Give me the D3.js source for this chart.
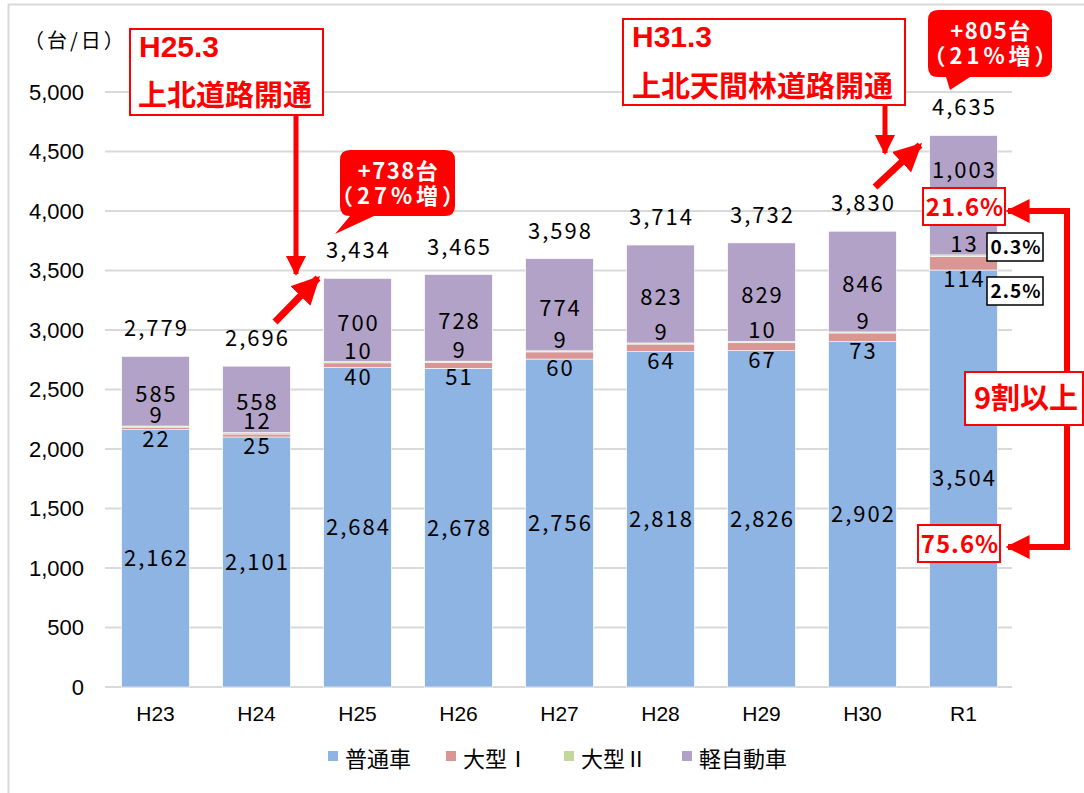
<!DOCTYPE html>
<html>
<head>
<meta charset="utf-8">
<script src="https://cdn.jsdelivr.net/npm/d3@7"></script>
<style>
  body { margin: 0; background: #fff; }
  svg { display: block; }
</style>
</head>
<body>
<script>
// data
var years = ["H23", "H24", "H25", "H26", "H27", "H28", "H29", "H30", "R1"];
var futsu = [2162, 2101, 2684, 2678, 2756, 2818, 2826, 2902, 3504];
var ogata1 = [22, 25, 40, 51, 60, 64, 67, 73, 114];
var ogata2 = [9, 12, 10, 9, 9, 9, 10, 9, 13];
var kei = [585, 558, 700, 728, 774, 823, 829, 846, 1003];
var totals = [2779, 2696, 3434, 3465, 3598, 3714, 3732, 3830, 4635];
var yTicks = [0, 500, 1000, 1500, 2000, 2500, 3000, 3500, 4000, 4500, 5000];
var seriesNames = ["普通車", "大型Ⅰ", "大型Ⅱ", "軽自動車"];
var colors = ["#8EB4E3", "#D99694", "#C3D69B", "#B3A2C7"];

var width = 1084, height = 793;
var jp = "'Noto Sans CJK JP', sans-serif";
var arial = "'Liberation Sans', Arial, sans-serif";
var red = "#FF0000";

var svg = d3.select("body").append("svg")
  .attr("width", width)
  .attr("height", height);

svg.append("defs").append("marker")
  .attr("id", "head")
  .attr("viewBox", "0 0 10 10")
  .attr("refX", 9).attr("refY", 5)
  .attr("markerWidth", 4).attr("markerHeight", 4)
  .attr("markerUnits", "strokeWidth")
  .attr("orient", "auto")
  .append("path").attr("d", "M0,0 L10,5 L0,10 Z").attr("fill", red);

// outer frame
svg.append("rect")
  .attr("x", 8.5).attr("y", 4.5)
  .attr("width", 1100).attr("height", 800)
  .attr("fill", "none").attr("stroke", "#D9D9D9").attr("stroke-width", 2);

var x = d3.scaleBand().domain(years).range([105, 1014]).paddingInner(0.33).paddingOuter(0.165);
var y = d3.scaleLinear().domain([0, 5000]).range([687, 92]);

// gridlines
svg.append("g").selectAll("line").data(yTicks).join("line")
  .attr("x1", 105).attr("x2", 1012)
  .attr("y1", d => y(d)).attr("y2", d => y(d))
  .attr("stroke", "#D9D9D9").attr("stroke-width", 2);

// y axis labels
var yAxis = svg.append("g")
  .attr("transform", "translate(84,0)")
  .call(d3.axisLeft(y).tickValues(yTicks).tickFormat(d3.format(",")).tickSize(0).tickPadding(0));
yAxis.select(".domain").remove();
yAxis.selectAll("text")
  .attr("font-family", arial)
  .attr("font-size", 22).attr("fill", "#000");

// x axis labels
var xAxis = svg.append("g")
  .attr("transform", "translate(0,706)")
  .call(d3.axisBottom(x).tickSize(0).tickPadding(0));
xAxis.select(".domain").remove();
xAxis.selectAll("text")
  .attr("font-family", arial)
  .attr("font-size", 21).attr("fill", "#000");

svg.append("text")
  .attr("x", 24).attr("y", 41).attr("dy", "0.36em")
  .attr("font-family", jp).attr("font-size", 20).attr("letter-spacing", 3)
  .text("（台/日）");

// stacked bars
var rows = years.map((yr, i) => ({ year: yr, s0: futsu[i], s1: ogata1[i], s2: ogata2[i], s3: kei[i] }));
var stack = d3.stack().keys(["s0", "s1", "s2", "s3"])(rows);

svg.append("g").selectAll("g").data(stack).join("g")
  .attr("fill", (d, i) => colors[i])
  .selectAll("rect").data(d => d).join("rect")
  .attr("x", d => x(d.data.year))
  .attr("y", d => y(d[1]))
  .attr("width", x.bandwidth())
  .attr("height", d => y(d[0]) - y(d[1]))
  .attr("stroke", "#fff").attr("stroke-width", 0.6);

var fmt = d3.format(",");
var lab = svg.append("g")
  .attr("font-family", jp).attr("font-size", 22).attr("fill", "#000")
  .attr("letter-spacing", 2)
  .attr("text-anchor", "middle");

years.forEach(function (yr, i) {
  var cx = x(yr) + x.bandwidth() / 2 + 1;
  var b = futsu[i], p = b + ogata1[i], g = p + ogata2[i], k = g + kei[i];
  // last bar: label lifted above the percent box
  var keiY = i === years.length - 1 ? y(k) + 35 : y((g + k) / 2) + 3;
  lab.append("text").attr("x", cx).attr("y", y(b / 2)).attr("dy", "0.36em").text(fmt(futsu[i]));
  lab.append("text").attr("x", cx).attr("y", y(b) + 9).attr("dy", "0.36em").text(fmt(ogata1[i]));
  lab.append("text").attr("x", cx).attr("y", y(g) - 11).attr("dy", "0.36em").text(fmt(ogata2[i]));
  lab.append("text").attr("x", cx).attr("y", keiY).attr("dy", "0.36em").text(fmt(kei[i]));
  lab.append("text").attr("x", cx).attr("y", y(totals[i]) - 28).attr("dy", "0.36em").text(fmt(totals[i]));
});

// legend
var leg = svg.append("g").attr("font-family", jp).attr("font-size", 22);
var legX = [328, 446, 564, 682];
seriesNames.forEach(function (n, i) {
  leg.append("rect").attr("x", legX[i]).attr("y", 751).attr("width", 10).attr("height", 10).attr("fill", colors[i]);
  leg.append("text").attr("x", legX[i] + 17).attr("y", 759).attr("dy", "0.36em").text(n);
});

// annotations
var ann = svg.append("g").attr("font-family", jp).attr("font-weight", "bold");

function redBox(x0, y0, w, h) {
  ann.append("rect").attr("x", x0).attr("y", y0).attr("width", w).attr("height", h)
    .attr("fill", "#fff").attr("stroke", red).attr("stroke-width", 2);
}
function arrow(x1, y1, x2, y2, w) {
  ann.append("line").attr("x1", x1).attr("y1", y1).attr("x2", x2).attr("y2", y2)
    .attr("stroke", red).attr("stroke-width", w).attr("marker-end", "url(#head)");
}
function bubble(x0, y0, w, h, tipX, tipY, baseX, l1, l2) {
  var r = 10;
  var path = "M" + (x0 + r) + "," + y0 +
    " H" + (x0 + w - r) + " Q" + (x0 + w) + "," + y0 + " " + (x0 + w) + "," + (y0 + r) +
    " V" + (y0 + h - r) + " Q" + (x0 + w) + "," + (y0 + h) + " " + (x0 + w - r) + "," + (y0 + h) +
    " H" + (baseX + 24) + " L" + tipX + "," + tipY + " L" + baseX + "," + (y0 + h) +
    " H" + (x0 + r) + " Q" + x0 + "," + (y0 + h) + " " + x0 + "," + (y0 + h - r) +
    " V" + (y0 + r) + " Q" + x0 + "," + y0 + " " + (x0 + r) + "," + y0 + " Z";
  ann.append("path").attr("d", path).attr("fill", red);
  ann.append("text").attr("x", x0 + w / 2 + 1).attr("y", y0 + 21).attr("dy", "0.36em")
    .attr("text-anchor", "middle").attr("fill", "#fff").attr("font-size", 22).attr("letter-spacing", 1.5).text(l1);
  ann.append("text").attr("x", x0 + w / 2 + 2).attr("y", y0 + 46).attr("dy", "0.36em")
    .attr("text-anchor", "middle").attr("fill", "#fff").attr("font-size", 22).attr("letter-spacing", 4).text(l2);
}

// H25.3
arrow(296, 115, 296, 274, 5);
redBox(130, 29, 193, 86);
ann.append("text").attr("x", 139).attr("y", 46).attr("dy", "0.36em").attr("fill", red).attr("font-size", 30)
  .attr("font-family", arial).text("H25.3");
ann.append("text").attr("x", 138).attr("y", 96).attr("dy", "0.36em").attr("fill", red).attr("font-size", 29).text("上北道路開通");
arrow(275, 322, 318, 278, 7);
bubble(340, 150, 115, 66, 335, 234, 350, "+738台", "（27%増）");

// H31.3
arrow(885, 105, 885, 153, 5);
redBox(623, 19, 282, 86);
ann.append("text").attr("x", 632).attr("y", 36).attr("dy", "0.36em").attr("fill", red).attr("font-size", 30)
  .attr("font-family", arial).text("H31.3");
ann.append("text").attr("x", 632).attr("y", 87).attr("dy", "0.36em").attr("fill", red).attr("font-size", 29).text("上北天間林道路開通");
arrow(875, 187, 920, 145, 7);
bubble(928, 10, 124, 67, 950, 90, 946, "+805台", "（21%増）");

// percent boxes
redBox(923, 188, 82, 37);
ann.append("text").attr("x", 965).attr("y", 207).attr("dy", "0.36em").attr("text-anchor", "middle")
  .attr("fill", red).attr("font-size", 24).attr("letter-spacing", 1).text("21.6%");
redBox(918, 525, 82, 37);
ann.append("text").attr("x", 960).attr("y", 544).attr("dy", "0.36em").attr("text-anchor", "middle")
  .attr("fill", red).attr("font-size", 24).attr("letter-spacing", 1).text("75.6%");

[[987, 233, "0.3%"], [987, 277, "2.5%"]].forEach(function (b) {
  ann.append("rect").attr("x", b[0]).attr("y", b[1]).attr("width", 56).attr("height", 28)
    .attr("fill", "#fff").attr("stroke", "#000").attr("stroke-width", 1.5);
  ann.append("text").attr("x", b[0] + 29).attr("y", b[1] + 14).attr("dy", "0.36em").attr("text-anchor", "middle")
    .attr("fill", "#000").attr("font-size", 19).attr("letter-spacing", 1).text(b[2]);
});

// bracket
ann.append("path").attr("d", "M1030,211 H1067 V547 H1030")
  .attr("fill", "none").attr("stroke", red).attr("stroke-width", 6);
arrow(1032, 211, 1008, 211, 6);
arrow(1032, 547, 1008, 547, 6);
redBox(965, 372, 118, 53);
ann.append("text").attr("x", 1026).attr("y", 399).attr("dy", "0.36em").attr("text-anchor", "middle")
  .attr("fill", red).attr("font-size", 29).text("9割以上");
</script>
</body>
</html>
